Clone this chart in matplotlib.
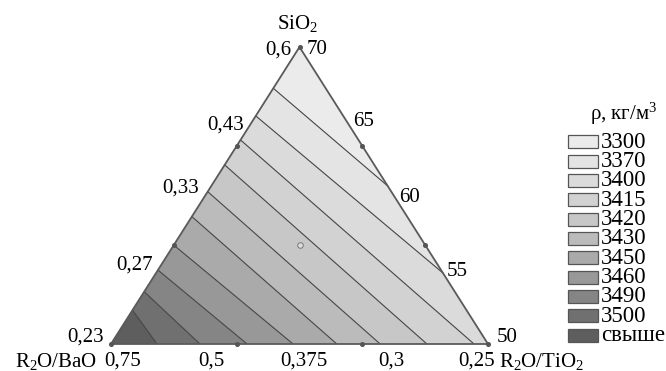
import matplotlib
matplotlib.use('Agg')
import matplotlib.pyplot as plt
from matplotlib.patches import Polygon, Rectangle

plt.rcParams['font.family'] = ['Liberation Serif', 'DejaVu Serif']
plt.rcParams['mathtext.fontset'] = 'custom'
plt.rcParams['mathtext.rm'] = 'Liberation Serif'
plt.rcParams['mathtext.it'] = 'Liberation Serif:italic'

# ---------------- data ----------------
levels = [3300, 3370, 3400, 3415, 3420, 3430, 3450, 3460, 3490, 3500]
legend_labels = [str(v) for v in levels] + ['свыше']
band_colors = ['#ebebeb', '#e4e4e4', '#dbdbdb', '#d2d2d2', '#c7c7c7', '#bbbbbb',
               '#aaaaaa', '#989898', '#858585', '#707070', '#5e5e5e']
# contour-line intersections with the triangle boundary
# left edge: fraction from R2O/BaO corner (0) to SiO2 apex (1)
contour_left = [0.861, 0.768, 0.687, 0.603, 0.513, 0.429, 0.333, 0.249, 0.176, 0.114]
# perimeter parameter: 0..1 apex -> R2O/TiO2 corner, 1..2 R2O/TiO2 -> R2O/BaO corner
contour_right = [0.468, 0.761, 1.037, 1.162, 1.286, 1.401, 1.517, 1.639, 1.764, 1.878]
left_ticks = ['0,6', '0,43', '0,33', '0,27', '0,23']
right_ticks = ['70', '65', '60', '55', '50']
bottom_ticks = ['0,75', '0,5', '0,375', '0,3', '0,25']
# design points (SiO2, R2O/BaO, R2O/TiO2)
design_pts = [(1, 0, 0), (0, 1, 0), (0, 0, 1),
              (2/3, 1/3, 0), (1/3, 2/3, 0), (2/3, 0, 1/3), (1/3, 0, 2/3),
              (0, 2/3, 1/3), (0, 1/3, 2/3)]
centroid = (1/3, 1/3, 1/3)

# ---------------- layout ----------------
W, H = 666, 371
X0, X1, YB, YT = 111, 488, 344, 47   # triangle pixel frame
fig = plt.figure(figsize=(W / 100, H / 100), dpi=100)
fig.patch.set_facecolor('white')

lax = fig.add_axes([0, 0, 1, 1])
lax.set_xlim(0, W)
lax.set_ylim(H, 0)
lax.axis('off')

ax = fig.add_axes([X0 / W, (H - YB) / H, (X1 - X0) / W, (YB - YT) / H])
ax.set_xlim(0, 1)
ax.set_ylim(0, 1)
ax.axis('off')


def tern(a, b, c):
    # a: SiO2 (apex), b: R2O/BaO (left), c: R2O/TiO2 (right)
    return (0.5 * a + c, a)


def left_pt(t):
    return (0.5 * t, t)


def perim(p):
    if p <= 1:
        s = 1 - p
        return (1 - 0.5 * s, s)
    return (2 - p, 0)


def px(xp, yp):
    return ((xp - X0) / (X1 - X0), (YB - yp) / (YB - YT))


# bands
n = len(band_colors)
for k in range(n):
    top_left = (0.5, 1.0) if k == 0 else left_pt(contour_left[k - 1])
    bot_left = (0.0, 0.0) if k == n - 1 else left_pt(contour_left[k])
    p_low = 2.0 if k == n - 1 else contour_right[k]
    p_up = 0.0 if k == 0 else contour_right[k - 1]
    verts = [top_left, bot_left, perim(p_low)]
    if p_up < 1 < p_low:
        verts.append((1.0, 0.0))
    verts.append(perim(p_up))
    ax.add_patch(Polygon(verts, closed=True, facecolor=band_colors[k],
                         edgecolor='none', zorder=1))

# contour lines
for t, p in zip(contour_left, contour_right):
    a = left_pt(t)
    b = perim(p)
    ax.plot([a[0], b[0]], [a[1], b[1]], color='#454545', lw=0.8, zorder=2)

# triangle frame
ax.add_patch(Polygon([(0, 0), (1, 0), (0.5, 1)], closed=True, fill=False,
                     edgecolor='#5a5a5a', lw=1.3, zorder=3, clip_on=False))

# design points
for pt in design_pts:
    x, y = tern(*pt)
    ax.plot(x, y, 'o', ms=2.6, color='#555555', zorder=4, clip_on=False)
cx, cy = tern(*centroid)
ax.plot(cx, cy, 'o', ms=4, mfc='#dddddd', mec='#777777', mew=0.7, zorder=4)

fs = 15
# apex title
ax.text(*px(298, 23), 'SiO$_2$', ha='center', va='center', fontsize=fs, clip_on=False)

left_pos = [(291, 50), (244, 125), (199, 188), (153, 265), (104, 337)]
for lab, (xp, yp) in zip(left_ticks, left_pos):
    ax.text(*px(xp, yp), lab, ha='right', va='center', fontsize=fs, clip_on=False)

right_pos = [(307, 50), (353, 122), (399, 198), (447, 271), (497, 337)]
for lab, (xp, yp) in zip(right_ticks, right_pos):
    ax.text(*px(xp, yp), lab, ha='left', va='center', fontsize=fs, clip_on=False)

bottom_pos = [123, 211, 304, 391, 477]
for lab, xp in zip(bottom_ticks, bottom_pos):
    ax.text(*px(xp, 361), lab, ha='center', va='center', fontsize=fs, clip_on=False)
ax.text(*px(56, 361), 'R$_2$O/BaO', ha='center', va='center', fontsize=fs, clip_on=False)
ax.text(*px(542, 361), 'R$_2$O/TiO$_2$', ha='center', va='center', fontsize=fs, clip_on=False)

# legend
lax.text(624, 114, 'ρ, кг/м$^3$', ha='center', va='center', fontsize=15)
row0, step = 141.7, 19.33
for i, (lab, col) in enumerate(zip(legend_labels, band_colors)):
    yc = row0 + i * step
    lax.add_patch(Rectangle((568, yc - 6.5), 30, 13, facecolor=col,
                            edgecolor='#555555', lw=0.9))
    lax.text(601, yc + 0.5, lab, ha='left', va='center', fontsize=16.5)

fig.savefig('out.png', dpi=100, facecolor='white')
